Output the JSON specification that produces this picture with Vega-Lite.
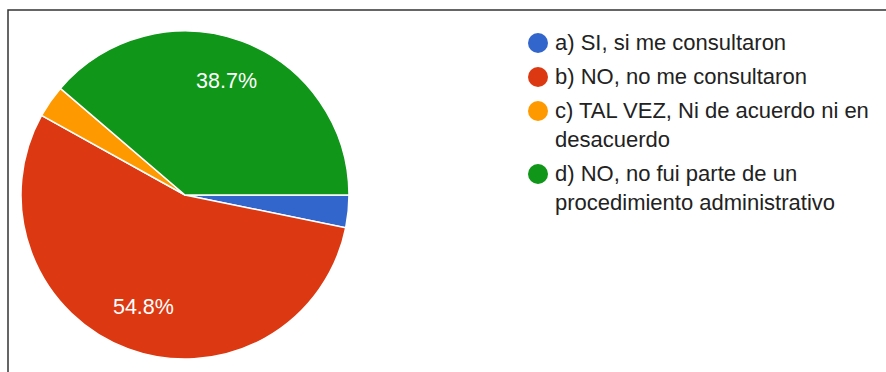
{
  "$schema": "https://vega.github.io/schema/vega-lite/v6.json",
  "width": 880,
  "height": 364,
  "autosize": {"type": "none"},
  "padding": {"left": 8, "top": 10, "right": 0, "bottom": 0},
  "background": "#ffffff",
  "config": {
    "view": {"stroke": "#333333", "strokeWidth": 1.5},
    "font": "Liberation Sans",
    "style": {"guide-label": {"dy": -10, "lineHeight": 29}}
  },
  "data": {
    "values": [
      {"respuesta": "a) SI, si me consultaron", "share": 0.032},
      {"respuesta": "b) NO, no me consultaron", "share": 0.548},
      {"respuesta": "c) TAL VEZ, Ni de acuerdo ni en desacuerdo", "share": 0.032},
      {"respuesta": "d) NO, no fui parte de un procedimiento administrativo", "share": 0.387}
    ]
  },
  "encoding": {
    "theta": {"field": "share", "type": "quantitative", "stack": true, "scale": {"range": [1.5707963, 7.8539816]}},
    "order": {"field": "respuesta", "sort": "ascending"},
    "x": {"value": 177},
    "y": {"value": 185}
  },
  "layer": [
    {
      "mark": {"type": "arc", "radius": 164, "stroke": "#ffffff", "strokeWidth": 1.5},
      "encoding": {
        "color": {
          "field": "respuesta",
          "type": "nominal",
          "scale": {"domain": ["a) SI, si me consultaron", "b) NO, no me consultaron", "c) TAL VEZ, Ni de acuerdo ni en desacuerdo", "d) NO, no fui parte de un procedimiento administrativo"], "range": ["#3366CC", "#DC3912", "#FF9900", "#109618"]},
          "legend": {
            "title": null,
            "orient": "none",
            "legendX": 519,
            "legendY": 22,
            "padding": 0,
            "symbolType": "circle",
            "symbolSize": 400,
            "symbolStrokeWidth": 0,
            "symbolOpacity": 1,
            "labelFont": "Liberation Sans",
            "labelFontSize": 22,
            "labelColor": "#222222",
            "labelOffset": 6,
            "labelLimit": 400,
            "labelBaseline": "top",
            "rowPadding": 12,
            "labelExpr": "split(replace(replace(datum.label, ' desacuerdo', '|desacuerdo'), ' procedimiento', '|procedimiento'), '|')"
          }
        }
      }
    },
    {
      "mark": {"type": "text", "radius": 120, "font": "Liberation Sans", "fontSize": 21.5, "fill": "#ffffff"},
      "encoding": {
        "text": {"field": "share", "type": "quantitative", "format": ".1%"},
        "opacity": {"condition": {"test": "datum.share < 0.1", "value": 0}, "value": 1}
      }
    }
  ]
}
